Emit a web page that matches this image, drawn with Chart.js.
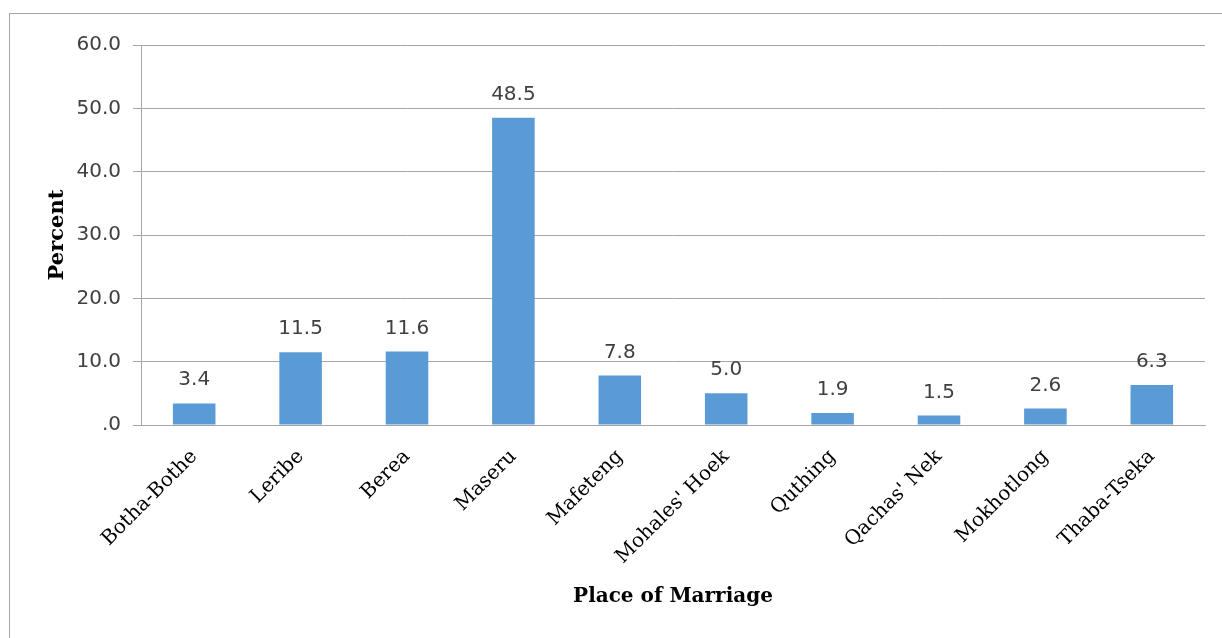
<!DOCTYPE html>
<html>
<head>
<meta charset="utf-8">
<script src="https://cdn.jsdelivr.net/npm/chart.js@4.4.0/dist/chart.umd.min.js"></script>
<style>
    body { margin: 0; background: #fff; overflow: hidden; }
    #frame {
        position: absolute; left: 9px; top: 13px;
        width: 1300px; height: 700px;
        border: 1px solid #a6a6a6;
    }
    #wrap { position: absolute; left: 0; top: 0; width: 1222px; height: 638px; }
</style>
</head>
<body>
<div id="frame"></div>
<div id="wrap"><canvas id="chartPlace" width="1222" height="638"></canvas></div>
<script>
const lugares = ['Botha-Bothe', 'Leribe', 'Berea', 'Maseru', 'Mafeteng', "Mohales' Hoek", 'Quthing', "Qachas' Nek", 'Mokhotlong', 'Thaba-Tseka'];
const percentuais = [3.4, 11.5, 11.6, 48.5, 7.8, 5.0, 1.9, 1.5, 2.6, 6.3];
const yTicks = [0, 10, 20, 30, 40, 50, 60];

function formata(v) {
    return v === 0 ? '.0' : v.toFixed(1);
}

const ctx = document.getElementById('chartPlace').getContext('2d');

new Chart(ctx, {
    type: 'bar',
    data: {
        labels: lugares,
        datasets: [{
            data: percentuais,
            backgroundColor: '#5b9bd5',
            borderWidth: 0,
            categoryPercentage: 1,
            barPercentage: 0.4,
        }]
    },
    options: {
        responsive: false,
        animation: false,
        layout: { padding: { top: 45, right: 17, bottom: 20, left: 0 } },
        plugins: {
            legend: { display: false },
            tooltip: { enabled: false }
        },
        scales: {
            x: {
                grid: { display: false },
                border: { display: true, color: '#a6a6a6', width: 1 },
                ticks: {
                    minRotation: 45,
                    maxRotation: 45,
                    color: '#000',
                    padding: 12,
                    font: { family: 'DejaVu Serif', size: 20 }
                },
                title: {
                    display: true,
                    text: 'Place of Marriage',
                    color: '#000',
                    padding: { top: 0, bottom: 9 },
                    font: { family: 'DejaVu Serif', size: 20, weight: 'bold' }
                },
                afterFit: function(scale) { scale.height = 193; }
            },
            y: {
                min: 0,
                max: 60,
                afterBuildTicks: function(scale) {
                    scale.ticks = yTicks.map(v => ({ value: v }));
                },
                grid: { color: '#a6a6a6', tickLength: 8 },
                border: { display: true, color: '#a6a6a6' },
                ticks: {
                    color: '#404040',
                    padding: 12,
                    font: { family: 'DejaVu Sans', size: 20 },
                    callback: function(v) { return formata(v); }
                },
                title: {
                    display: true,
                    text: 'Percent',
                    color: '#000',
                    padding: { top: 45, bottom: 0 },
                    font: { family: 'DejaVu Serif', size: 21, weight: 'bold' }
                },
                afterFit: function(scale) { scale.width = 141; }
            }
        }
    },
    plugins: [{
        id: 'rotulosBarras',
        afterDatasetsDraw: function(chart) {
            const c = chart.ctx;
            const meta = chart.getDatasetMeta(0);
            c.save();
            c.font = '20px "DejaVu Sans"';
            c.fillStyle = '#404040';
            c.textAlign = 'center';
            c.textBaseline = 'alphabetic';
            meta.data.forEach((bar, i) => {
                c.fillText(formata(percentuais[i]), bar.x, bar.y - 18);
            });
            c.restore();
        }
    }]
});
</script>
</body>
</html>
